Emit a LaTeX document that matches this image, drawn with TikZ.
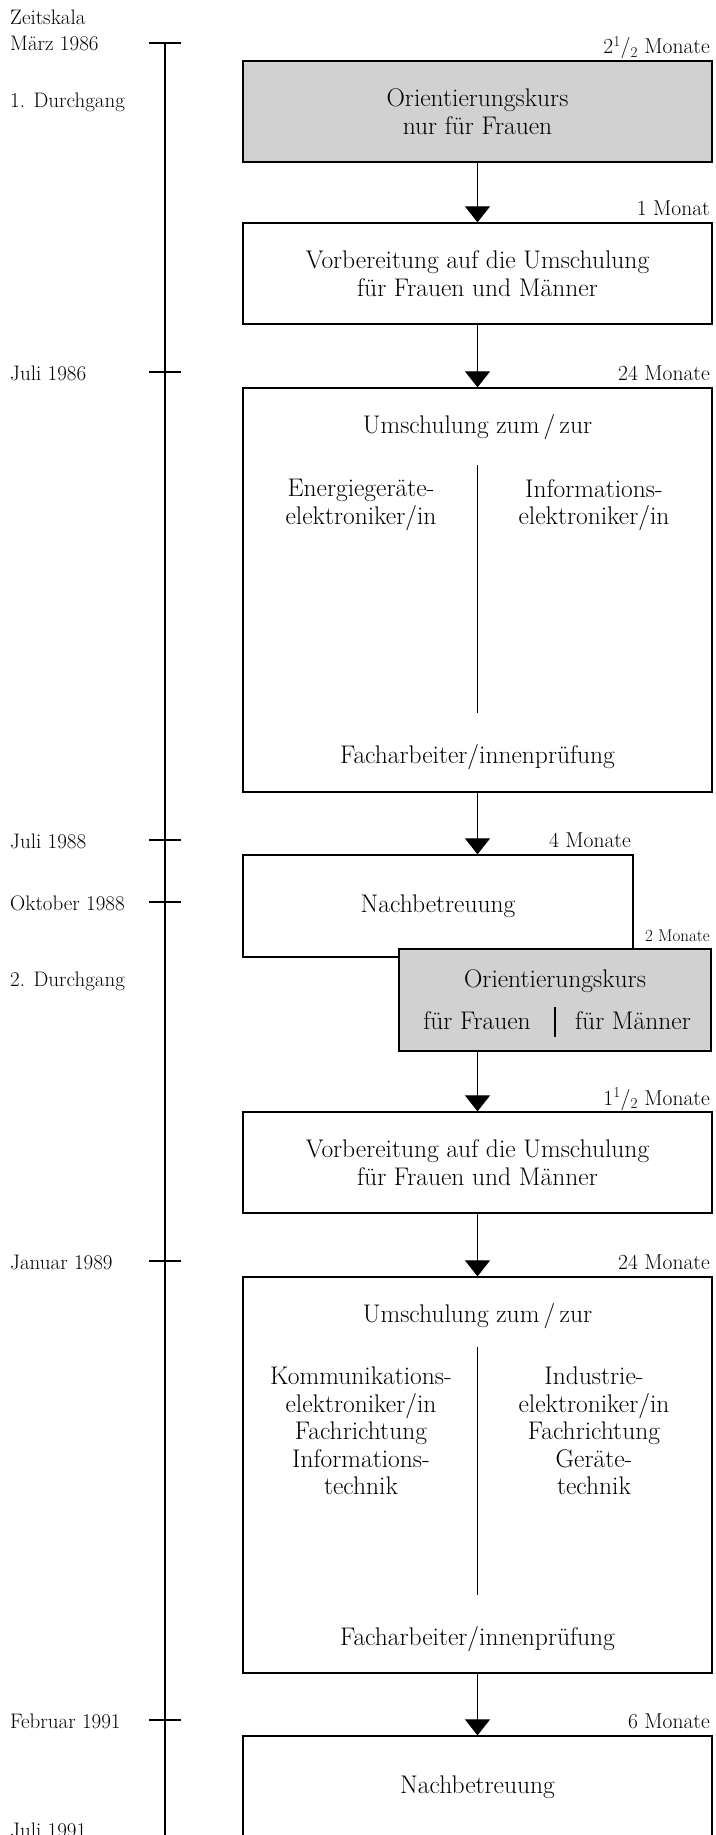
\documentclass[tikz,border=0pt]{standalone}
\usetikzlibrary{arrows.meta}

\newcommand{\kastenschrift}{\fontsize{25.5}{27.5}\selectfont}
\newcommand{\skalaschrift}{\fontsize{21}{24}\selectfont}

\begin{document}
\begin{tikzpicture}[x=1pt, y=-1pt,
  kasten/.style={draw, line width=1.3pt, inner sep=0pt, align=center, font=\kastenschrift},
  grau/.style={fill=black!18},
  txt/.style={inner sep=0pt, align=center, font=\kastenschrift},
  skala/.style={anchor=base west, inner sep=0pt, font=\skalaschrift},
  zeit/.style={anchor=base east, inner sep=0pt, font=\fontsize{21.5}{24}\selectfont},
  strich/.style={line width=1.1pt},
  pfeil/.style={-{Triangle[width=25pt,length=16pt]}, line width=1.2pt}]
\useasboundingbox (0,0) rectangle (715,1835);

\pgfmathsetmacro{\xm}{477.5}
\pgfmathsetmacro{\w}{469}

\draw[strich] (165,43) -- (165,1845);
\foreach \y in {43,372,840,902,1261,1720}
  \draw[strich] (149,\y) -- (181,\y);

\node[skala] (zeitskala) at (10,25) {Zeitskala};
\node[skala] (maerz86) at (10,51) {März 1986};
\node[skala] (durch1) at (10,108) {1. Durchgang};
\node[skala] (juli86) at (10,380) {Juli 1986};
\node[skala] (juli88) at (10,848) {Juli 1988};
\node[skala] (okt88) at (10,910) {Oktober 1988};
\node[skala] (durch2) at (10,986) {2. Durchgang};
\node[skala] (jan89) at (10,1269) {Januar 1989};
\node[skala] (feb91) at (10,1728) {Februar 1991};
\node[skala] (juli91) at (10,1837) {Juli 1991};

\node[kasten, grau, minimum width=\w pt, minimum height=101pt] (b1) at (\xm,111.5)
  {Orientierungskurs\\nur für Frauen};
\node[kasten, minimum width=\w pt, minimum height=101pt] (b2) at (\xm,273.5)
  {Vorbereitung auf die Umschulung\\für Frauen und Männer};
\node[kasten, minimum width=\w pt, minimum height=404pt] (b3) at (\xm,590) {};
\node[kasten, minimum width=390pt, minimum height=102pt] (b4) at (438,906) {Nachbetreuung};
\node[kasten, grau, minimum width=312pt, minimum height=102pt] (b5) at (555,1000) {};
\node[kasten, minimum width=\w pt, minimum height=101pt] (b6) at (\xm,1162.5)
  {Vorbereitung auf die Umschulung\\für Frauen und Männer};
\node[kasten, minimum width=\w pt, minimum height=396pt] (b7) at (\xm,1475) {};
\node[kasten, minimum width=\w pt, minimum height=102pt] (b8) at (\xm,1787) {Nachbetreuung};

\node[txt, anchor=base] (b3kopf) at (\xm,433) {Umschulung zum\,/\,zur};
\node[txt, anchor=north] (b3links) at (361,479) {Energiegeräte-\\elektroniker/in};
\node[txt, anchor=north] (b3rechts) at (594,479) {Informations-\\elektroniker/in};
\draw[strich] (\xm,465) -- (\xm,713);
\node[txt, anchor=base] (b3pruef) at (\xm,763) {Facharbeiter/innenprüfung};

\node[txt, anchor=base] (b5kopf) at (555,987) {Orientierungskurs};
\node[txt, anchor=base] (b5frauen) at (477,1029) {für Frauen};
\node[txt, anchor=base] (b5maenner) at (633,1029) {für Männer};
\draw[strich] (555,1007) -- (555,1037);

\node[txt, anchor=base] (b7kopf) at (\xm,1322) {Umschulung zum\,/\,zur};
\node[txt, anchor=north] (b7links) at (361,1367)
  {Kommunikations-\\elektroniker/in\\Fachrichtung\\Informations-\\technik};
\node[txt, anchor=north] (b7rechts) at (594,1367)
  {Industrie-\\elektroniker/in\\Fachrichtung\\Geräte-\\technik};
\draw[strich] (\xm,1347) -- (\xm,1595);
\node[txt, anchor=base] (b7pruef) at (\xm,1645) {Facharbeiter/innenprüfung};

\node[zeit] (d1) at (710,54) {2\textsuperscript{1}/\textsubscript{2} Monate};
\node[zeit] (d2) at (710,216) {1 Monat};
\node[zeit] (d3) at (710,380) {24 Monate};
\node[zeit] (d4) at (631,847) {4 Monate};
\node[zeit, font=\fontsize{17}{20}\selectfont] (d5) at (710,941) {2 Monate};
\node[zeit] (d6) at (710,1105) {1\textsuperscript{1}/\textsubscript{2} Monate};
\node[zeit] (d7) at (710,1269) {24 Monate};
\node[zeit] (d8) at (710,1728) {6 Monate};

\draw[pfeil] (b1) -- (b2);
\draw[pfeil] (b2) -- (b3);
\draw[pfeil] (b3.south) -- (b3.south |- b4.north);
\draw[pfeil] (b6.north |- b5.south) -- (b6.north);
\draw[pfeil] (b6) -- (b7);
\draw[pfeil] (b7) -- (b8);
\end{tikzpicture}
\end{document}
